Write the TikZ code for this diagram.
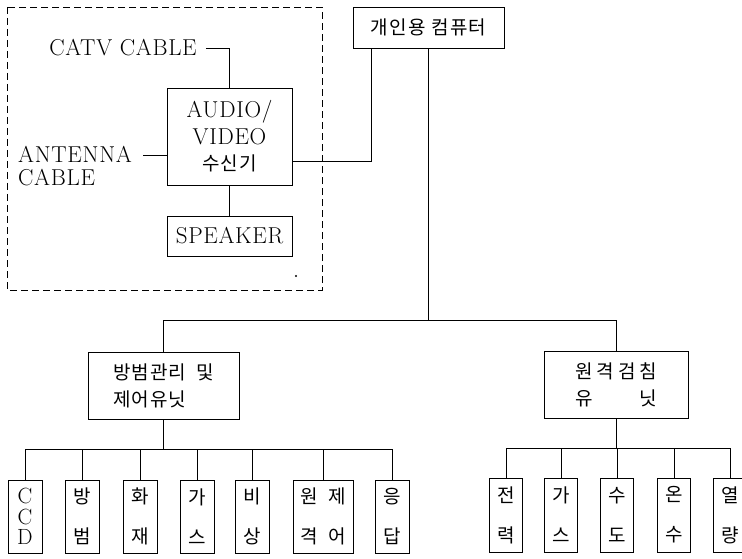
\documentclass[tikz,border=0pt]{standalone}
\usepackage{fontspec}
\setmainfont{Latin Modern Roman}[LetterSpace=3]
\newfontfamily\kr[LetterSpace=6]{Noto Sans CJK KR}
\tikzset{
 box/.style={draw, line width=0.8pt, inner sep=0pt, align=center},
 lat/.style={font=\fontsize{23}{26.5}\selectfont},
 kor/.style={font=\kr\fontsize{19}{27}\selectfont},
 leaf/.style={box, minimum width=34pt, minimum height=73pt, font=\kr\fontsize{19}{40}\selectfont},
 rleaf/.style={leaf, minimum width=33pt, minimum height=74pt},
 wire/.style={line width=0.8pt},
 dashbox/.style={line width=0.9pt, dash pattern=on 7pt off 4pt},
}
\begin{document}
\begin{tikzpicture}[x=1pt,y=-1pt]
\useasboundingbox (0,0) rectangle (742,559);
% TV set-top area
\draw[dashbox] (7,7) rectangle (322,290);
\node[lat, inner sep=0pt] (catv) at (123,48) {CATV CABLE};
\node[box, lat, minimum width=125pt, minimum height=97pt] (rx) at (229.5,136.5) {AUDIO/\\VIDEO\\{\kr\fontsize{19}{26.5}\selectfont 수신기}};
\node[lat, align=left, inner sep=0pt, font=\fontsize{23}{23}\selectfont] (ant) at (75,166.5) {ANTENNA\\CABLE};
\coordinate (a1) at (143,155);
\draw[wire] (a1) -- (a1 -| rx.west);
\draw[wire] ([xshift=9pt]catv.east) -- (catv.east -| rx.north) -- (rx.north);
\node[box, lat, minimum width=125pt, minimum height=40pt] (spk) at (229.5,236) {SPEAKER};
\draw[wire] (rx.south) -- (spk.north);
\fill (296,276) circle (1.2pt);
% computer
\node[box, kor, minimum width=151pt, minimum height=41pt] (pc) at (428.5,27.5) {개인용\hspace{6pt}컴퓨터};
\coordinate (j1) at (371,161);
\draw[wire] (rx.east |- j1) -- (j1) -- (j1 |- pc.south);
\coordinate (bus) at (428.5,320);
\draw[wire] (pc.south) -- (bus);
% units
\node[box, kor, align=left, minimum width=151pt, minimum height=67pt] (mc) at (163.5,385.5) {방범관리\hspace{10pt}및\\제어유닛};
\node[box, kor, minimum width=144pt, minimum height=67pt] (rm) at (616,384.5) {\makebox[82pt][s]{원 격 검 침}\\\makebox[82pt][s]{유 닛}};
\draw[wire] (mc.north) -- (mc.north |- bus) -- (rm.north |- bus) -- (rm.north);
% left leaves
\node[leaf, font=\fontsize{22}{20.5}\selectfont] (l1) at (25,516.5) {C\\C\\D};
\node[leaf] (l2) at (82,516.5) {방\\범};
\node[leaf] (l3) at (140,516.5) {화\\재};
\node[leaf] (l4) at (197,516.5) {가\\스};
\node[leaf] (l5) at (252,516.5) {비\\상};
\node[leaf, minimum width=60pt] (l6) at (323,516.5) {원\hspace{11pt}제\\격\hspace{11pt}어};
\node[leaf] (l7) at (392,516.5) {응\\답};
\coordinate (lb) at (163.5,449);
\draw[wire] (mc.south) -- (lb);
\draw[wire] (l1.north |- lb) -- (l7.north |- lb);
\foreach \n in {l1,l2,l3,l4,l5,l6,l7} \draw[wire] (\n.north) -- (\n.north |- lb);
% right leaves
\node[rleaf] (r1) at (506,515) {전\\력};
\node[rleaf] (r2) at (561,515) {가\\스};
\node[rleaf] (r3) at (617,515) {수\\도};
\node[rleaf] (r4) at (674,515) {온\\수};
\node[rleaf] (r5) at (730,515) {열\\량};
\coordinate (rb) at (616,448);
\draw[wire] (rm.south) -- (rb);
\draw[wire] (r1.north |- rb) -- (r5.north |- rb);
\foreach \n in {r1,r2,r3,r4,r5} \draw[wire] (\n.north) -- (\n.north |- rb);
\end{tikzpicture}
\end{document}
